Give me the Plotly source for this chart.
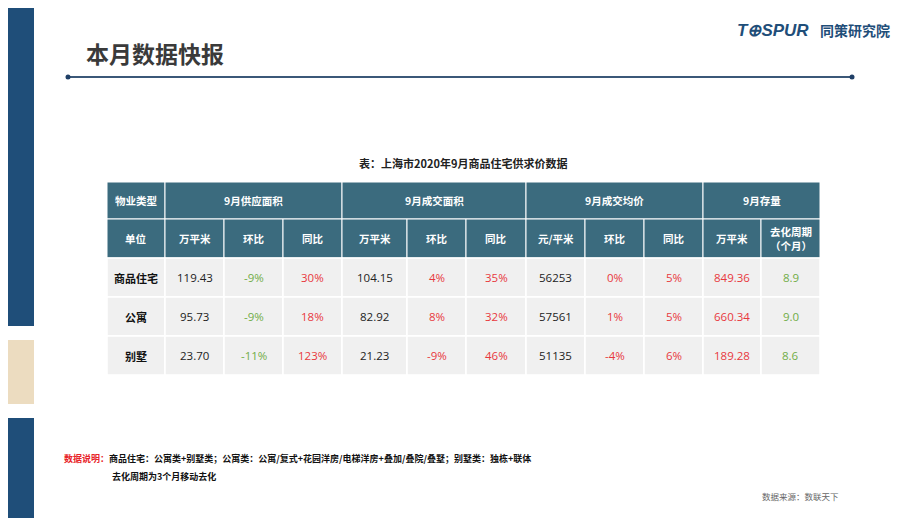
import plotly.graph_objects as go

title = "本月数据快报"
table_title = "表：上海市2020年9月商品住宅供求价数据"
groups = ["9月供应面积", "9月成交面积", "9月成交均价", "9月存量"]
group_spans = [3, 3, 3, 2]
units = ["单位", "万平米", "环比", "同比", "万平米", "环比", "同比", "元/平米", "环比", "同比", "万平米", "去化周期<br>（个月）"]
categories = ["商品住宅", "公寓", "别墅"]
supply = ["119.43", "95.73", "23.70"]
supply_mom = ["-9%", "-9%", "-11%"]
supply_yoy = ["30%", "18%", "123%"]
deal = ["104.15", "82.92", "21.23"]
deal_mom = ["4%", "8%", "-9%"]
deal_yoy = ["35%", "32%", "46%"]
price = ["56253", "57561", "51135"]
price_mom = ["0%", "1%", "-4%"]
price_yoy = ["5%", "5%", "6%"]
stock = ["849.36", "660.34", "189.28"]
cycle = ["8.9", "9.0", "8.6"]

GREEN = "#70ad47"; RED = "#e8383d"; DARK = "#222222"; HEAD = "#3b6b7e"
col_colors = [None, DARK, GREEN, RED, DARK, RED, RED, DARK, RED, RED, RED, GREEN]
columns = [categories, supply, supply_mom, supply_yoy, deal, deal_mom, deal_yoy,
           price, price_mom, price_yoy, stock, cycle]

xs = [107, 165, 224, 283, 342, 407, 466, 526, 585, 644, 703, 761, 820]
ys = [182, 219, 258, 297, 336, 375]

shapes = []
ann = []
def rect(x0, y0, x1, y1, color, line=None, lw=0):
    shapes.append(dict(type="rect", x0=x0, y0=y0, x1=x1, y1=y1, fillcolor=color,
                       line=dict(color=line or color, width=lw), layer="below"))
def text(x, y, t, size=11, color=DARK, bold=False, xa="center", font="Noto Sans CJK SC"):
    ann.append(dict(x=x, y=y, text=("<b>%s</b>" % t) if bold else t, showarrow=False,
                    font=dict(size=size, color=color, family=font), xanchor=xa, yanchor="middle"))

rect(-10, -10, 34, 326, "#1f4e79")
rect(-10, 340, 34, 404, "#ecdcc0")
rect(-10, 418, 34, 530, "#1f4e79")
shapes.append(dict(type="line", x0=68, y0=77, x1=852, y1=77, line=dict(color="#3b5878", width=2)))
for cx in (68, 852):
    shapes.append(dict(type="circle", x0=cx-2.5, y0=74.5, x1=cx+2.5, y1=79.5,
                       fillcolor="#1f3f66", line=dict(color="#1f3f66", width=0)))
text(84, 53, title, size=23, color="#3a3a3a", bold=True, xa="left")
ann.append(dict(x=735, y=30, text="<b><i>T<span style='color:#1f4e79'>⊕</span>SPUR</i></b>", showarrow=False,
                font=dict(size=17, color="#1f4e79", family="Arial"), xanchor="left", yanchor="middle"))
text(818, 30, "同策研究院", size=14, color="#1f4e79", bold=True, xa="left")
text(463, 163, table_title, size=11, color=DARK, bold=True)

rect(xs[0], ys[0], xs[1], ys[1], HEAD, "white", 1)
text((xs[0]+xs[1])/2, (ys[0]+ys[1])/2, "物业类型", 10.5, "white", True)
c = 1
for g, s in zip(groups, group_spans):
    rect(xs[c], ys[0], xs[c+s], ys[1], HEAD, "white", 1)
    text((xs[c]+xs[c+s])/2, (ys[0]+ys[1])/2, g, 10.5, "white", True)
    c += s
for i, u in enumerate(units):
    rect(xs[i], ys[1], xs[i+1], ys[2], HEAD, "white", 1)
    text((xs[i]+xs[i+1])/2, (ys[1]+ys[2])/2, u, 10.5, "white", True)
for r in range(3):
    for i, col in enumerate(columns):
        rect(xs[i], ys[r+2], xs[i+1], ys[r+3], "#f0f0f0", "white", 1.5)
        if i == 0:
            text((xs[i]+xs[i+1])/2, (ys[r+2]+ys[r+3])/2, col[r], 11, "#111111", True)
        else:
            text((xs[i]+xs[i+1])/2, (ys[r+2]+ys[r+3])/2, col[r], 11.5, col_colors[i], False,
                 font="Open Sans")

ann.append(dict(x=62, y=458, text="<b><span style='color:#e8232a'>数据说明：</span>商品住宅：公寓类+别墅类；公寓类：公寓/复式+花园洋房/电梯洋房+叠加/叠院/叠墅；别墅类：独栋+联体</b>",
                showarrow=False, font=dict(size=9, color="#111111", family="Noto Sans CJK SC"),
                xanchor="left", yanchor="middle"))
text(110, 476, "去化周期为3个月移动去化", 9, "#111111", True, xa="left")
text(760, 496, "数据来源：数联天下", 8.5, "#666666", xa="left")

fig = go.Figure()
fig.add_trace(go.Scatter(x=[8, 928], y=[8, 526], mode="markers", marker=dict(opacity=0), hoverinfo="skip"))
fig.update_layout(width=920, height=518, margin=dict(l=0, r=0, t=0, b=0),
                  plot_bgcolor="white", paper_bgcolor="white", showlegend=False,
                  shapes=shapes, annotations=ann,
                  xaxis=dict(range=[8, 928], visible=False, fixedrange=True),
                  yaxis=dict(range=[526, 8], visible=False, fixedrange=True))
fig.write_html("out.html")
